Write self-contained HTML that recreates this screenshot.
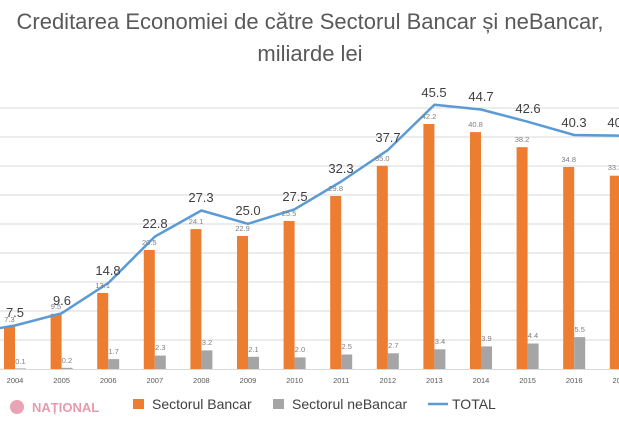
<!DOCTYPE html>
<html><head><meta charset="utf-8"><style>
body{margin:0;background:#fff;width:619px;height:421px;overflow:hidden;font-family:"Liberation Sans",sans-serif}
</style></head><body>
<svg width="619" height="421" viewBox="0 0 619 421" xmlns="http://www.w3.org/2000/svg" font-family="Liberation Sans, sans-serif">
<text x="310" y="29" text-anchor="middle" font-size="22" fill="#595959">Creditarea Economiei de către Sectorul Bancar și neBancar,</text>
<text x="310" y="61" text-anchor="middle" font-size="22" fill="#595959">miliarde lei</text>
<g stroke="#d9d9d9" stroke-width="1">
<line x1="0" x2="619" y1="108" y2="108"/><line x1="0" x2="619" y1="137" y2="137"/><line x1="0" x2="619" y1="166" y2="166"/><line x1="0" x2="619" y1="195" y2="195"/><line x1="0" x2="619" y1="224" y2="224"/><line x1="0" x2="619" y1="253" y2="253"/><line x1="0" x2="619" y1="282" y2="282"/><line x1="0" x2="619" y1="311" y2="311"/><line x1="0" x2="619" y1="340" y2="340"/><line x1="0" x2="619" y1="369.5" y2="369.5"/>
</g>
<g fill="#ed7d31">
<rect x="4" y="326.6" width="11" height="42.4"/><rect x="50.6" y="313.8" width="11" height="55.2"/><rect x="97.2" y="292.9" width="11" height="76.1"/><rect x="143.8" y="250" width="11" height="119"/><rect x="190.4" y="229.1" width="11" height="139.9"/><rect x="237" y="236" width="11" height="133"/><rect x="283.6" y="221" width="11" height="148"/><rect x="330.2" y="196" width="11" height="173"/><rect x="376.8" y="165.8" width="11" height="203.2"/><rect x="423.4" y="124" width="11" height="245"/><rect x="470" y="132.1" width="11" height="236.9"/><rect x="516.6" y="147.2" width="11" height="221.8"/><rect x="563.2" y="167" width="11" height="202"/><rect x="609.8" y="175.7" width="11" height="193.3"/>
</g>
<g fill="#a5a5a5">
<rect x="15" y="368.4" width="11" height="0.6"/><rect x="61.6" y="367.8" width="11" height="1.2"/><rect x="108.2" y="359.1" width="11" height="9.9"/><rect x="154.8" y="355.6" width="11" height="13.4"/><rect x="201.4" y="350.4" width="11" height="18.6"/><rect x="248" y="356.8" width="11" height="12.2"/><rect x="294.6" y="357.4" width="11" height="11.6"/><rect x="341.2" y="354.5" width="11" height="14.5"/><rect x="387.8" y="353.3" width="11" height="15.7"/><rect x="434.4" y="349.3" width="11" height="19.7"/><rect x="481" y="346.4" width="11" height="22.6"/><rect x="527.6" y="343.5" width="11" height="25.5"/><rect x="574.2" y="337.1" width="11" height="31.9"/>
</g>
<polyline fill="none" stroke="#5b9bd5" stroke-width="2.5" stroke-linejoin="round" points="0,328 15,325.5 61.6,313.3 108.2,283.1 154.8,236.6 201.4,210.5 248,223.8 294.6,209.3 341.2,181.5 387.8,150.1 434.4,104.8 481,109.5 527.6,121.7 574.2,135 620.8,135.6"/>
<g font-size="7.5" fill="#7f7f7f" text-anchor="middle">
<text x="9.5" y="322">7.3</text><text x="56" y="309">9.5</text><text x="102.7" y="288">13.1</text><text x="149.3" y="245">20.5</text><text x="196" y="224">24.1</text><text x="242.5" y="231">22.9</text><text x="289" y="216">25.5</text><text x="335.7" y="191">29.8</text><text x="382.3" y="161">35.0</text><text x="429" y="119">42.2</text><text x="475.5" y="127">40.8</text><text x="522" y="142">38.2</text><text x="568.7" y="162">34.8</text><text x="615" y="170">33.3</text>
<text x="20.5" y="364">0.1</text><text x="67" y="363">0.2</text><text x="113.7" y="354">1.7</text><text x="160.3" y="350">2.3</text><text x="207" y="345">3.2</text><text x="253.5" y="352">2.1</text><text x="300" y="352">2.0</text><text x="346.7" y="349">2.5</text><text x="393.3" y="348">2.7</text><text x="440" y="344">3.4</text><text x="486.5" y="341">3.9</text><text x="533" y="338">4.4</text><text x="579.7" y="332">5.5</text>
</g>
<g font-size="13" fill="#404040" text-anchor="middle">
<text x="15" y="317">7.5</text><text x="62" y="305">9.6</text><text x="108" y="275">14.8</text><text x="155" y="228">22.8</text><text x="201" y="202">27.3</text><text x="248" y="215">25.0</text><text x="295" y="201">27.5</text><text x="341" y="173">32.3</text><text x="388" y="142">37.7</text><text x="434" y="97">45.5</text><text x="481" y="101">44.7</text><text x="528" y="113">42.6</text><text x="574" y="127">40.3</text><text x="620" y="127">40.1</text>
</g>
<g font-size="7.5" fill="#595959" text-anchor="middle">
<text x="15" y="383">2004</text><text x="61.6" y="383">2005</text><text x="108.2" y="383">2006</text><text x="154.8" y="383">2007</text><text x="201.4" y="383">2008</text><text x="248" y="383">2009</text><text x="294.6" y="383">2010</text><text x="341.2" y="383">2011</text><text x="387.8" y="383">2012</text><text x="434.4" y="383">2013</text><text x="481" y="383">2014</text><text x="527.6" y="383">2015</text><text x="574.2" y="383">2016</text><text x="620.8" y="383">2017</text>
</g>
<circle cx="17" cy="407" r="7" fill="#e8a3b5"/>
<text x="32" y="412" font-size="13" font-weight="bold" fill="#e79aae">NAȚIONAL</text>
<rect x="133" y="399" width="11" height="10" fill="#ed7d31"/>
<text x="152" y="409" font-size="14" fill="#404040">Sectorul Bancar</text>
<rect x="273" y="399" width="11" height="10" fill="#a5a5a5"/>
<text x="292" y="409" font-size="14" fill="#404040">Sectorul neBancar</text>
<line x1="428" y1="404" x2="448" y2="404" stroke="#5b9bd5" stroke-width="2.5"/>
<text x="452" y="409" font-size="14" fill="#404040">TOTAL</text>
</svg>
</body></html>
